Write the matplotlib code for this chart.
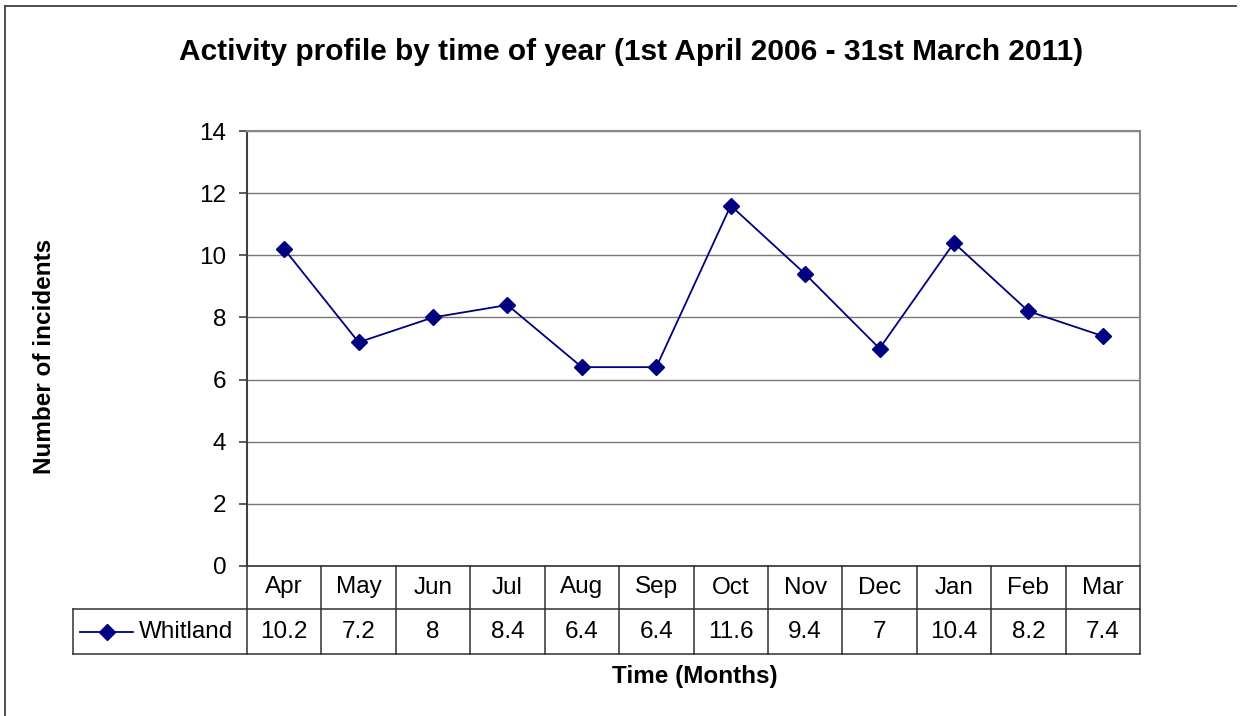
import numpy as np
import matplotlib.pyplot as plt
import matplotlib.transforms as mtransforms
from matplotlib.lines import Line2D

plt.rcParams['font.family'] = ['Liberation Sans', 'DejaVu Sans']

# данные
months = ['Apr', 'May', 'Jun', 'Jul', 'Aug', 'Sep', 'Oct', 'Nov', 'Dec', 'Jan', 'Feb', 'Mar']
whitland = [10.2, 7.2, 8, 8.4, 6.4, 6.4, 11.6, 9.4, 7, 10.4, 8.2, 7.4]
value_labels = ['10.2', '7.2', '8', '8.4', '6.4', '6.4', '11.6', '9.4', '7', '10.4', '8.2', '7.4']
series_name = 'Whitland'
y_ticks = [0, 2, 4, 6, 8, 10, 12, 14]

navy = '#000080'
fs = 17.5
ms = 8
W, H = 1245, 716
fig = plt.figure(figsize=(W / 100, H / 100), dpi=100)

# рамка слева и сверху
fig.add_artist(Line2D([5.5 / W, 5.5 / W], [0, 1 - 5.5 / H], transform=fig.transFigure, color='#404040', lw=1.3))
fig.add_artist(Line2D([5.5 / W, 1236 / W], [1 - 5.5 / H, 1 - 5.5 / H], transform=fig.transFigure,
                      color='#404040', lw=1.3))

left, right, top, bottom = 247, 1140, 131, 566
ax = fig.add_axes([left / W, 1 - bottom / H, (right - left) / W, (bottom - top) / H])

x = np.arange(len(months))
ax.plot(x, whitland, color=navy, lw=1.3, marker='D', markersize=ms, markerfacecolor=navy, markeredgecolor=navy)

ax.set_xlim(-0.5, len(months) - 0.5)
ax.set_ylim(0, 14)
ax.set_yticks(y_ticks)
ax.set_xticks([])
ax.yaxis.grid(True, color='#777777', lw=1.0)
ax.set_axisbelow(True)
ax.tick_params(axis='y', labelsize=fs, length=6, width=1.2, color='#404040', pad=9)

for s in ['top', 'right']:
    ax.spines[s].set_color('#888888')
    ax.spines[s].set_linewidth(1.5)
ax.spines['left'].set_color('#404040')
ax.spines['left'].set_linewidth(1.5)
ax.spines['bottom'].set_color('#303030')
ax.spines['bottom'].set_linewidth(1.2)

# таблица данных под графиком
ph = bottom - top
r1 = -(609 - bottom) / ph
r2 = -(654 - bottom) / ph
leg_x = (73 - left) / (right - left)
bt = mtransforms.blended_transform_factory(ax.transData, ax.transAxes)
lc = '#303030'

for i in range(len(months) + 1):
    xb = i - 0.5
    ax.add_line(Line2D([xb, xb], [0, r2], transform=bt, color=lc, lw=1.1, clip_on=False))
for yy in [r1, r2]:
    ax.add_line(Line2D([leg_x, 1], [yy, yy], transform=ax.transAxes, color=lc, lw=1.1, clip_on=False))
ax.add_line(Line2D([leg_x, leg_x], [r1, r2], transform=ax.transAxes, color=lc, lw=1.1, clip_on=False))

for i, m in enumerate(months):
    ax.text(i, r1 / 2, m, transform=bt, ha='center', va='center', fontsize=fs)
    ax.text(i, (r1 + r2) / 2, value_labels[i], transform=bt, ha='center', va='center', fontsize=fs)

# легенда в ячейке
ym = (r1 + r2) / 2
lx0 = (80 - left) / (right - left)
lx1 = (133 - left) / (right - left)
ax.add_line(Line2D([lx0, lx1], [ym, ym], transform=ax.transAxes, color=navy, lw=1.3, clip_on=False))
ax.add_line(Line2D([(lx0 + lx1) / 2], [ym], transform=ax.transAxes, color=navy, marker='D',
                   markersize=ms, clip_on=False))
ax.text((139 - left) / (right - left), ym, series_name, transform=ax.transAxes, ha='left', va='center',
        fontsize=fs)

fig.text(631 / W, 1 - 52 / H, 'Activity profile by time of year (1st April 2006 - 31st March 2011)',
         ha='center', va='center', fontsize=21.5, fontweight='bold')
fig.text(45 / W, 1 - 356 / H, 'Number of incidents', rotation=90, ha='center', va='center',
         fontsize=17.5, fontweight='bold')
fig.text(695 / W, 1 - 676 / H, 'Time (Months)', ha='center', va='center', fontsize=17.5, fontweight='bold')

fig.savefig('out.png', dpi=100)
